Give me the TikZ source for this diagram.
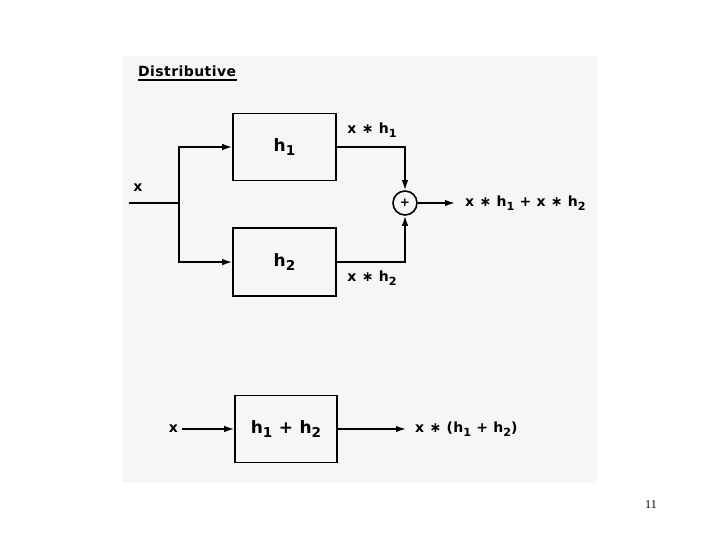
\documentclass[tikz,border=0pt]{standalone}
\usepackage{fontspec}
\setmainfont{Liberation Serif}
\newfontfamily\lettering[LetterSpace=3]{DejaVu Sans}
\newcommand{\low}[1]{\raisebox{-0.5ex}{\scalebox{0.8}{#1}}}
\usetikzlibrary{positioning,arrows.meta}

\begin{document}
\begin{tikzpicture}[x=1pt, y=-1pt, node distance=46pt,
    block/.style={rectangle, draw, line width=1.6pt, minimum width=103pt, minimum height=67pt, align=center, font=\lettering\bfseries\fontsize{17}{19}\selectfont},
    adder/.style={circle, draw, line width=1.6pt, minimum size=24pt, inner sep=0pt, font=\lettering\bfseries\fontsize{12}{12}\selectfont},
    lbl/.style={inner sep=4pt, font=\lettering\bfseries\fontsize{14}{16}\selectfont},
    arrow/.style={-{Latex[length=10pt, width=6.5pt]}, line width=1.6pt},
    wire/.style={line width=1.6pt}]

    % page and scanned sheet
    \useasboundingbox (0,0) rectangle (720,540);
    \fill[gray!7] (122,56) rectangle (597,483);
    \node[font=\fontsize{12}{14}\selectfont] (page) at (651,505) {11};

    % title
    \node[lbl, anchor=west] (title) at (134,71) {Distributive};
    \draw[line width=1.8pt] (title.south west) ++(4,-1) -- ([xshift=-3pt, yshift=1pt]title.south east);

    % parallel blocks
    \node[block] (h1) at (284.5,147) {h\low{1}};
    \node[block, below=of h1, minimum height=68pt] (h2) {h\low{2}};
    \node[adder] (sum) at (405,203) {+};

    % input and split point
    \coordinate (in) at (129,203);
    \coordinate (split) at (179,203);
    \node[lbl] (xin) at (138,188) {x};

    % outputs
    \node[lbl] (y1) at (372,130) {x ∗ h\low{1}};
    \node[lbl] (y2) at (372,278) {x ∗ h\low{2}};
    \node[lbl, anchor=west, inner xsep=10pt] (ysum) at (455,203) {x ∗ h\low{1} + x ∗ h\low{2}};

    % single block
    \node[block, minimum width=102pt] (h12) at (286,429) {h\low{1} + h\low{2}};
    \node[lbl, anchor=east] (xin2) at (182,429) {x};
    \node[lbl, anchor=west, inner xsep=9pt] (y12) at (406,429) {x ∗ (h\low{1} + h\low{2})};

    % Connect with arrows
    \draw[wire] (in) -- (split);
    \draw[arrow] (split) |- (h1.west);
    \draw[arrow] (split) |- (h2.west);
    \draw[arrow] (h1.east) -| (sum.north);
    \draw[arrow] (h2.east) -| (sum.south);
    \draw[arrow] (sum.east) -- (ysum.west);
    \draw[arrow] (xin2) -- (h12);
    \draw[arrow] (h12) -- (y12);
\end{tikzpicture}
\end{document}
